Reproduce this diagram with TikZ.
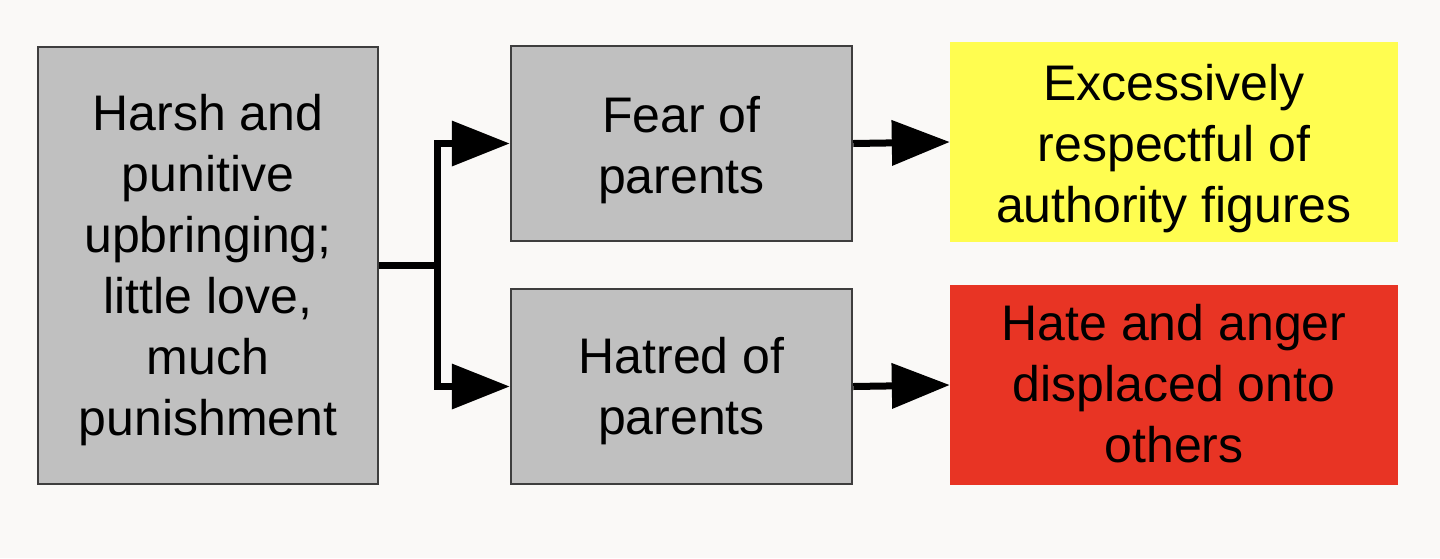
\documentclass[tikz,border=0pt]{standalone}
\usepackage{fontspec}
\setmainfont{Liberation Sans}
\usetikzlibrary{arrows.meta}
\definecolor{bgc}{HTML}{FAF9F7}
\definecolor{boxgray}{HTML}{C0C0C0}
\definecolor{boxedge}{HTML}{3E3E3E}
\definecolor{yel}{HTML}{FFFD50}
\definecolor{redc}{HTML}{E83424}
\newsavebox{\linesbox}
\newcommand{\boxlines}[2]{\sbox{\linesbox}{\begin{tabular}{@{}c@{}}#2\end{tabular}}%
  \raisebox{-#1}[\ht\linesbox][\dp\linesbox]{\usebox{\linesbox}}}
\begin{document}
\begin{tikzpicture}[x=1pt,y=-1pt,
  every node/.style={font=\fontsize{50}{61}\selectfont, inner sep=0pt, text=black},
  graybox/.style={draw=boxedge, line width=2.5pt, fill=boxgray, rectangle},
  resbox/.style={rectangle, draw=none},
  conn/.style={line width=7pt, draw=black, line join=miter, -{Triangle[length=58pt,width=44pt]}}]
\fill[bgc] (0,0) rectangle (1440,558);
\useasboundingbox (0,0) rectangle (1440,558);
\node[graybox, minimum width=340pt, minimum height=437pt] (A) at (208,265.5)
  {\boxlines{5pt}{Harsh and\\punitive\\upbringing;\\little love,\\much\\punishment}};
\node[graybox, minimum width=341pt, minimum height=195pt] (B) at (681.5,143.5)
  {\boxlines{7pt}{Fear of\\parents}};
\node[graybox, minimum width=341pt, minimum height=195pt] (C) at (681.5,386.5)
  {\boxlines{5pt}{Hatred of\\parents}};
\node[resbox, fill=yel, minimum width=448pt, minimum height=200pt] (D) at (1174,142)
  {\boxlines{7pt}{Excessively\\respectful of\\authority figures}};
\node[resbox, fill=redc, minimum width=448pt, minimum height=200pt] (E) at (1174,385)
  {\boxlines{4pt}{Hate and anger\\displaced onto\\others}};
\coordinate (J) at (437,265.5);
\draw[line width=7pt, line cap=butt] (A.east) -- (J);
\draw[conn] (J) |- (B.west);
\draw[conn] (J) |- (C.west);
\draw[conn] (B.east) -- (D.west);
\draw[conn] (C.east) -- (E.west);
\end{tikzpicture}
\end{document}
